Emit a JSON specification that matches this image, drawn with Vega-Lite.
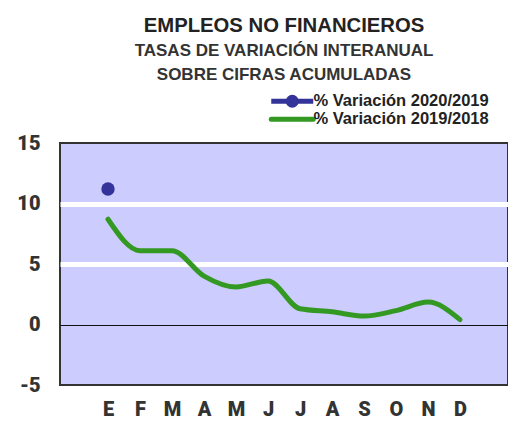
{
  "$schema": "https://vega.github.io/schema/vega-lite/v6.json",
  "width": 448,
  "height": 242,
  "autosize": {"type": "none"},
  "padding": {"left": 60, "top": 143, "right": 0, "bottom": 36},
  "background": "white",
  "title": {
    "text": "EMPLEOS NO FINANCIEROS",
    "subtitle": ["TASAS DE VARIACIÓN INTERANUAL", "SOBRE CIFRAS ACUMULADAS"],
    "anchor": "middle",
    "frame": "group",
    "font": "Liberation Sans",
    "fontSize": 20.3,
    "fontWeight": "bold",
    "color": "#222222",
    "subtitleFont": "Liberation Sans",
    "subtitleFontSize": 17,
    "subtitleFontWeight": "bold",
    "subtitleColor": "#333333",
    "subtitlePadding": 6.5,
    "subtitleLineHeight": 23.5,
    "offset": 10.5
  },
  "config": {"view": {"fill": "#ccccff", "stroke": "#333333", "strokeWidth": 2}},
  "data": {
    "values": [
      {"mes": 1, "serie": "% Variación 2019/2018", "valor": 8.7},
      {"mes": 2, "serie": "% Variación 2019/2018", "valor": 6.1},
      {"mes": 3, "serie": "% Variación 2019/2018", "valor": 6.1},
      {"mes": 4, "serie": "% Variación 2019/2018", "valor": 4.0},
      {"mes": 5, "serie": "% Variación 2019/2018", "valor": 3.1},
      {"mes": 6, "serie": "% Variación 2019/2018", "valor": 3.6},
      {"mes": 7, "serie": "% Variación 2019/2018", "valor": 1.3},
      {"mes": 8, "serie": "% Variación 2019/2018", "valor": 1.05},
      {"mes": 9, "serie": "% Variación 2019/2018", "valor": 0.7},
      {"mes": 10, "serie": "% Variación 2019/2018", "valor": 1.15},
      {"mes": 11, "serie": "% Variación 2019/2018", "valor": 1.85},
      {"mes": 12, "serie": "% Variación 2019/2018", "valor": 0.4},
      {"mes": 1, "serie": "% Variación 2020/2019", "valor": 11.2}
    ]
  },
  "encoding": {
    "x": {
      "field": "mes",
      "type": "quantitative",
      "scale": {"domain": [-0.5, 13.5], "nice": false, "zero": false},
      "axis": {
        "title": null,
        "values": [1,2,3,4,5,6,7,8,9,10,11,12],
        "labelAngle": 0,
        "labelExpr": "['E','F','M','A','M','J','J','A','S','O','N','D'][datum.value - 1]",
        "labelFont": "Roboto",
        "labelFontWeight": 900,
        "labelFontSize": 20,
        "labelColor": "#333333",
        "labelPadding": 14,
        "ticks": false,
        "domain": false,
        "grid": false
      }
    },
    "y": {
      "field": "valor",
      "type": "quantitative",
      "scale": {"domain": [-5, 15], "nice": false, "zero": false},
      "axis": {
        "title": null,
        "values": [-5, 0, 5, 10, 15],
        "labelExpr": "toString(datum.value)",
        "labelFont": "Roboto",
        "labelFontWeight": 900,
        "labelFontSize": 20,
        "labelColor": "#333333",
        "labelPadding": 20,
        "ticks": false,
        "domain": false,
        "grid": true,
        "gridColor": {"condition": {"test": "datum.value === 0", "value": "#111111"}, "value": "#ffffff"},
        "gridWidth": {"condition": {"test": "datum.value === 0", "value": 1}, "value": 5},
        "gridOpacity": {"condition": {"test": "datum.value === 15 || datum.value === -5", "value": 0}, "value": 1}
      }
    }
  },
  "layer": [
    {
      "transform": [{"filter": "datum.serie === '% Variación 2019/2018'"}],
      "mark": {"type": "line", "interpolate": "monotone", "strokeWidth": 5, "strokeCap": "round"},
      "encoding": {
        "color": {
          "field": "serie",
          "type": "nominal",
          "scale": {"domain": ["% Variación 2019/2018"], "range": ["#339922"]},
          "legend": {
            "title": null,
            "orient": "none",
            "legendX": 224,
            "legendY": -32,
            "padding": 0,
            "symbolType": "M-5.25,0H5.25",
            "symbolSize": 64,
            "symbolStrokeWidth": 5,
            "labelFont": "Liberation Sans",
            "labelFontWeight": "bold",
            "labelFontSize": 16.5,
            "labelColor": "#222222",
            "labelOffset": 13,
            "labelLimit": 300,
            "encode": {"symbols": {"update": {"strokeCap": {"value": "round"}}}}
          }
        }
      }
    },
    {
      "transform": [{"filter": "datum.serie === '% Variación 2020/2019'"}],
      "mark": {"type": "point", "filled": true, "size": 180, "opacity": 1},
      "encoding": {
        "fill": {
          "field": "serie",
          "type": "nominal",
          "scale": {"domain": ["% Variación 2020/2019"], "range": ["#333399"]},
          "legend": {
            "title": null,
            "orient": "none",
            "legendX": 224,
            "legendY": -50,
            "padding": 0,
            "symbolType": "M-5.25,0H5.25M-1,0A1,1,0,1,0,1,0A1,1,0,1,0,-1,0Z",
            "symbolSize": 64,
            "symbolStrokeWidth": 5,
            "symbolStrokeColor": "#333399",
            "labelFont": "Liberation Sans",
            "labelFontWeight": "bold",
            "labelFontSize": 16.5,
            "labelColor": "#222222",
            "labelOffset": 13,
            "labelLimit": 300,
            "encode": {"symbols": {"update": {"strokeCap": {"value": "round"}, "stroke": {"value": "#333399"}, "strokeWidth": {"value": 5}}}}
          }
        }
      }
    }
  ]
}
